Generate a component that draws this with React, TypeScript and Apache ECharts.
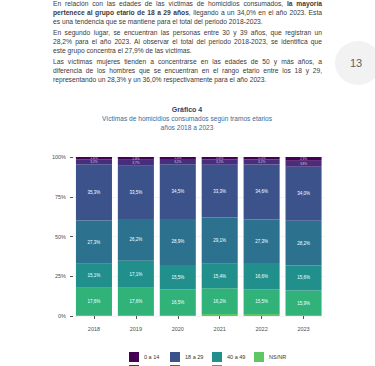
import React, { useEffect, useRef } from "react";
import * as echarts from "echarts";

const years = ["2018", "2019", "2020", "2021", "2022", "2023"];
const seriesNames = ["0 a 14", "15 a 17", "18 a 29", "30 a 39", "40 a 49", "50 y más", "NS/NR"];
const v0a14 = [1.4, 1.8, 1.3, 1.6, 1.5, 2.3];
const v15a17 = [3.2, 3.7, 3.2, 3.2, 3.2, 3.8];
const v18a29 = [35.3, 33.5, 34.5, 33.3, 34.6, 34.0];
const v30a39 = [27.3, 26.2, 28.9, 29.1, 27.3, 28.2];
const v40a49 = [15.1, 17.1, 15.5, 15.4, 16.6, 15.6];
const v50mas = [17.6, 17.6, 16.5, 16.2, 15.5, 15.9];
const vNSNR = [0.1, 0.1, 0.1, 1.2, 1.3, 0.2];
const yTicks = [0, 25, 50, 75, 100];

const colors: Record<string, string> = {
  "0 a 14": "#440154",
  "15 a 17": "#472D7B",
  "18 a 29": "#3B528B",
  "30 a 39": "#2C728E",
  "40 a 49": "#21908C",
  "50 y más": "#30B278",
  "NS/NR": "#5DC863",
};

const fmt = (v: number) => v.toFixed(1).replace(".", ",") + "%";

const FONT = "'Liberation Sans', Arial, sans-serif";

const paragraphs: { lines: React.ReactNode[]; top: number }[] = [
  {
    top: 0,
    lines: [
      <>En relación con las edades de las víctimas de homicidios consumados, <b>la mayoría</b></>,
      <><b>pertenece al grupo etario de 18 a 29 años</b>, llegando a un 34,0% en el año 2023. Esta</>,
      <>es una tendencia que se mantiene para el total del periodo 2018-2023.</>,
    ],
  },
  {
    top: 29,
    lines: [
      <>En segundo lugar, se encuentran las personas entre 30 y 39 años, que registran un</>,
      <>28,2% para el año 2023. Al observar el total del periodo 2018-2023, se identifica que</>,
      <>este grupo concentra el 27,9% de las víctimas.</>,
    ],
  },
  {
    top: 58,
    lines: [
      <>Las víctimas mujeres tienden a concentrarse en las edades de 50 y más años, a</>,
      <>diferencia de los hombres que se encuentran en el rango etario entre los 18 y 29,</>,
      <>representando un 28,3% y un 36,0% respectivamente para el año 2023.</>,
    ],
  },
];

export default function App() {
  const ref = useRef<HTMLDivElement>(null);

  useEffect(() => {
    if (!ref.current) return;
    const chart = echarts.init(ref.current, null, { renderer: "svg" });
    const stackOrder: [string, number[]][] = [
      ["NS/NR", vNSNR],
      ["50 y más", v50mas],
      ["40 a 49", v40a49],
      ["30 a 39", v30a39],
      ["18 a 29", v18a29],
      ["15 a 17", v15a17],
      ["0 a 14", v0a14],
    ];
    const series = stackOrder.map(([name, data]) => {
      const small = name === "0 a 14" || name === "15 a 17";
      return {
        name,
        type: "bar",
        stack: "total",
        data,
        barCategoryGap: "14%",
        itemStyle: { color: colors[name] },
        label: {
          show: name !== "NS/NR",
          position: "inside",
          color: small ? "#d9c8ee" : "#ffffff",
          fontSize: small ? 3.2 : 4.5,
          fontFamily: FONT,
          formatter: (p: any) => fmt(p.value),
        },
      };
    });
    // legend arranged column-major in 2 rows; the second row sits at the picture's
    // bottom edge, where only the top of its keys shows (its labels fall outside)
    const colLefts = [129, 170, 212, 254];
    const rowTops = [352, 365];
    const legends = seriesNames.map((name, i) => {
      const row = i % 2;
      return {
        left: colLefts[Math.floor(i / 2)],
        top: rowTops[row],
        data: [name],
        itemWidth: 10,
        itemHeight: 10,
        icon: "rect",
        padding: 0,
        selectedMode: false,
        formatter: row === 0 ? "{name}" : () => "",
        textStyle: { fontSize: 5.5, color: "#333333", fontFamily: FONT },
      };
    });
    chart.setOption({
      animation: false,
      backgroundColor: "transparent",
      textStyle: { fontFamily: FONT },
      graphic: [
        {
          type: "text",
          x: 187,
          y: 109,
          style: {
            text: "Gráfico 4",
            textAlign: "center",
            textVerticalAlign: "middle",
            fontSize: 7,
            fontWeight: "bold",
            fill: "#24476B",
            fontFamily: FONT,
          },
        },
        {
          type: "text",
          x: 187,
          y: 118.5,
          style: {
            text: "Víctimas de homicidios consumados según tramos etarios",
            textAlign: "center",
            textVerticalAlign: "middle",
            fontSize: 6.6,
            fill: "#3B6A99",
            fontFamily: FONT,
          },
        },
        {
          type: "text",
          x: 187,
          y: 127,
          style: {
            text: "años 2018 a 2023",
            textAlign: "center",
            textVerticalAlign: "middle",
            fontSize: 6.6,
            fill: "#3B6A99",
            fontFamily: FONT,
          },
        },
      ],
      legend: legends,
      grid: { left: 73, right: 50.5, top: 157, bottom: 50, containLabel: false },
      xAxis: {
        type: "category",
        data: years,
        axisLine: { show: false },
        axisTick: { show: true, alignWithLabel: true, length: 3, lineStyle: { color: "#555555" } },
        axisLabel: { fontSize: 5.5, color: "#4d4d4d", margin: 10, fontFamily: FONT },
      },
      yAxis: {
        type: "value",
        min: yTicks[0],
        max: yTicks[yTicks.length - 1],
        interval: 25,
        axisLine: { show: false },
        axisTick: { show: true, length: 3, lineStyle: { color: "#555555" } },
        axisLabel: { fontSize: 5.5, color: "#4d4d4d", margin: 7, formatter: "{value}%", fontFamily: FONT },
        splitLine: { show: true, lineStyle: { color: "#ebebeb", width: 0.6 } },
      },
      series,
    });
    return () => chart.dispose();
  }, []);

  return (
    <div
      style={{
        position: "fixed",
        left: 0,
        top: 0,
        width: 375,
        height: 366,
        background: "#ffffff",
        overflow: "hidden",
        fontFamily: FONT,
      }}
    >
      <div
        style={{
          position: "absolute",
          left: 335,
          top: 41,
          width: 46,
          height: 44,
          borderRadius: "50%",
          background: "#f2f2f2",
        }}
      />
      <div
        style={{
          position: "absolute",
          left: 340,
          top: 54,
          width: 32,
          textAlign: "center",
          fontSize: 11,
          lineHeight: "18px",
          color: "#606060",
        }}
      >
        13
      </div>
      {paragraphs.map((p, i) => (
        <div
          key={i}
          style={{ position: "absolute", left: 53, top: p.top, width: 269, fontSize: 6.7, lineHeight: "8.8px", color: "#3a3a3a" }}
        >
          {p.lines.map((l, j) => (
            <div
              key={j}
              style={{
                textAlign: j === p.lines.length - 1 ? "left" : "justify",
                textAlignLast: j === p.lines.length - 1 ? "left" : "justify",
                whiteSpace: "nowrap",
              }}
            >
              {l}
            </div>
          ))}
        </div>
      ))}
      <div ref={ref} style={{ position: "absolute", left: 0, top: 0, width: 375, height: 366 }} />
    </div>
  );
}
